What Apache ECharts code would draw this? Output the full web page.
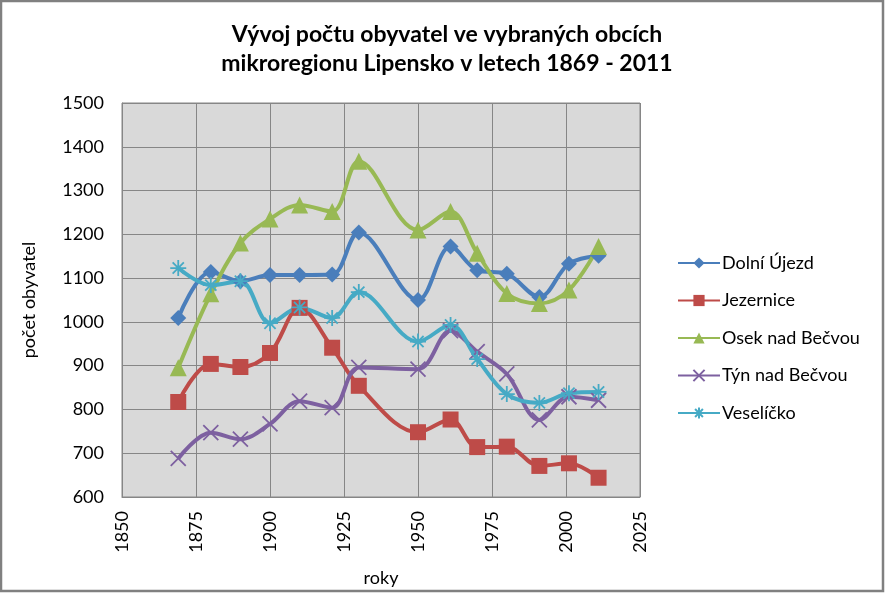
<!DOCTYPE html>
<html>
<head>
<meta charset="utf-8">
<script src="https://cdn.jsdelivr.net/npm/echarts@6/dist/echarts.min.js"></script>
<style>
html,body{margin:0;padding:0;background:#fff;}
#c{width:885px;height:593px;}
</style>
</head>
<body>
<div id="c"></div>
<script>
const years = [1869, 1880, 1890, 1900, 1910, 1921, 1930, 1950, 1961, 1970, 1980, 1991, 2001, 2011];
const dolniUjezd = [1009, 1114, 1093, 1107, 1107, 1108, 1204, 1050, 1172, 1118, 1110, 1057, 1133, 1151];
const jezernice = [817, 904, 897, 929, 1032, 941, 854, 748, 777, 714, 715, 671, 677, 644];
const osekNadBecvou = [895, 1064, 1180, 1235, 1267, 1252, 1367, 1210, 1252, 1157, 1065, 1042, 1073, 1172];
const tynNadBecvou = [688, 747, 732, 767, 819, 804, 896, 892, 980, 932, 881, 776, 829, 821];
const veselicko = [1123, 1084, 1093, 997, 1033, 1009, 1068, 955, 993, 915, 835, 815, 837, 840];
const seriesNames = ['Dolní Újezd', 'Jezernice', 'Osek nad Bečvou', 'Týn nad Bečvou', 'Veselíčko'];
const seriesData = [dolniUjezd, jezernice, osekNadBecvou, tynNadBecvou, veselicko];
const colors = ['#4a7ebb', '#be4b48', '#98b954', '#7d60a0', '#46aac5'];

const xSym = 'path://M0,0L10,10M10,0L0,10';
const starSym = 'path://M5,0L5,10M0,5L10,5M1.5,1.5L8.5,8.5M8.5,1.5L1.5,8.5';
const symbols = ['diamond', 'rect', 'triangle', xSym, starSym];
const sizes = [16, 16, 17, 15, 16];

const FONT = 'Lato';

const chart = echarts.init(document.getElementById('c'), null, {renderer: 'canvas'});
const series = seriesNames.map((n, i) => {
  const stroked = i >= 3;
  return {
    name: n,
    type: 'line',
    data: years.map((y, k) => [y, seriesData[i][k]]),
    smooth: 0.35,
    symbol: symbols[i],
    symbolSize: sizes[i],
    showAllSymbol: true,
    lineStyle: {color: colors[i], width: 4},
    itemStyle: stroked ? {color: 'none', borderColor: colors[i], borderWidth: 1.8} : {color: colors[i], borderWidth: 0},
    emphasis: {disabled: true},
    animation: false
  };
});

chart.setOption({
  animation: false,
  color: colors,
  textStyle: {fontFamily: FONT},
  title: {
    text: 'Vývoj počtu obyvatel ve vybraných obcích\nmikroregionu Lipensko v letech 1869 - 2011',
    left: 442, top: 15, textAlign: 'center',
    textStyle: {fontFamily: FONT, fontSize: 23, fontWeight: 'bold', color: '#000', lineHeight: 29}
  },
  graphic: [{
    type: 'rect', silent: true,
    shape: {x: 1, y: 1, width: 882, height: 590},
    style: {fill: 'none', stroke: '#808080', lineWidth: 2.5}
  }],
  legend: {
    orient: 'vertical',
    left: 672, top: 249,
    itemWidth: 42, itemHeight: 14,
    itemGap: 19.5,
    textStyle: {fontFamily: FONT, fontSize: 18, color: '#000', padding: [0, 0, 0, -3]},
    data: seriesNames
  },
  grid: {
    left: 122, top: 103, right: 245, bottom: 96,
    show: true, backgroundColor: '#d9d9d9', borderColor: '#868686', borderWidth: 1
  },
  xAxis: {
    type: 'value', min: 1850, max: 2025, interval: 25,
    name: 'roky', nameLocation: 'middle', nameGap: 72,
    nameTextStyle: {fontFamily: FONT, fontSize: 18, color: '#000'},
    axisLine: {show: true, lineStyle: {color: '#868686'}},
    axisTick: {show: false},
    axisLabel: {rotate: 90, fontFamily: FONT, fontSize: 18, color: '#000', margin: 14, formatter: v => String(v)},
    splitLine: {show: true, lineStyle: {color: '#868686', width: 1}}
  },
  yAxis: {
    type: 'value', min: 600, max: 1500, interval: 100,
    name: 'počet obyvatel', nameLocation: 'middle', nameGap: 84,
    nameTextStyle: {fontFamily: FONT, fontSize: 18, color: '#000'},
    axisLine: {show: true, lineStyle: {color: '#868686'}},
    axisTick: {show: false},
    axisLabel: {fontFamily: FONT, fontSize: 18, color: '#000', margin: 18, formatter: v => String(v)},
    splitLine: {show: true, lineStyle: {color: '#868686', width: 1}}
  },
  series: series
});
</script>
</body>
</html>
